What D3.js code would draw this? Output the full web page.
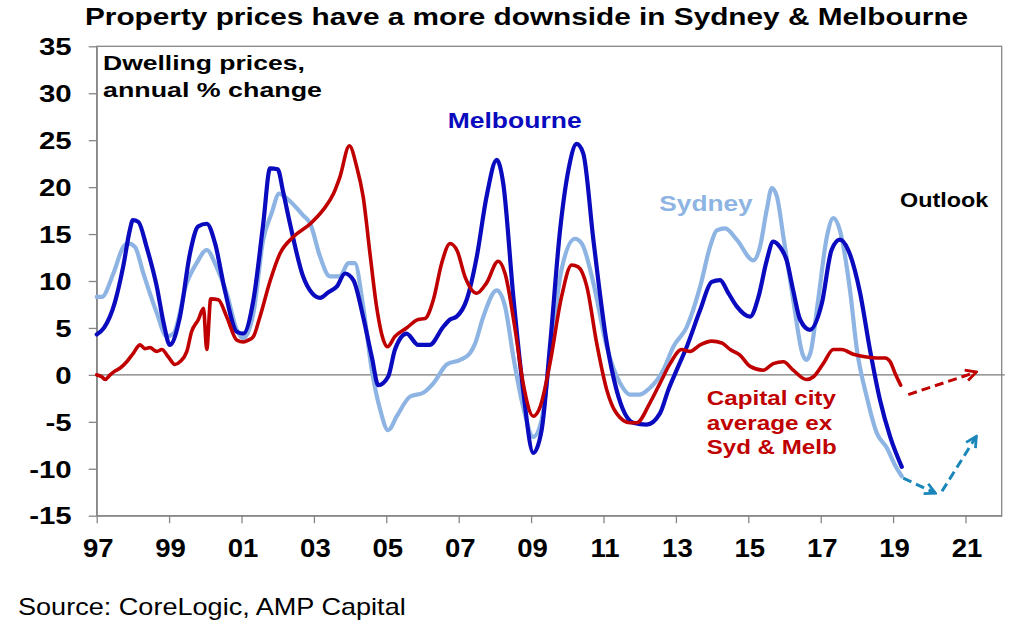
<!DOCTYPE html>
<html>
<head>
<meta charset="utf-8">
<script src="https://cdn.jsdelivr.net/npm/d3@7"></script>
<style>
  body { margin: 0; background: #fff; }
  text { font-family: "Liberation Sans", Arial, Helvetica, sans-serif; }
</style>
</head>
<body>
<svg id="chart" width="1024" height="629"></svg>
<script>
// annual % change as [year, value]
var sydney = [
  [1997.0, 8.3], [1997.14, 8.3], [1997.46, 10.8], [1997.73, 13.6], [1997.87, 14.0], [1998.06, 13.6],
  [1998.29, 10.8], [1998.66, 6.6], [1998.93, 4.1], [1999.12, 4.4], [1999.49, 9.8], [1999.76, 11.9],
  [2000.04, 13.3], [2000.31, 11.5], [2000.59, 8.7], [2000.87, 4.8], [2001.05, 3.9], [2001.33, 6.6],
  [2001.6, 14.4], [2001.83, 17.2], [2002.04, 19.3], [2002.25, 18.8], [2002.7, 17.0], [2002.9, 16.1],
  [2003.17, 12.6], [2003.44, 10.5], [2003.72, 10.5], [2003.95, 11.9], [2004.13, 11.9], [2004.36, 7.3],
  [2004.6, 0.5], [2004.83, -3.7], [2005.05, -5.9], [2005.29, -4.4], [2005.66, -2.3], [2006.02, -1.9],
  [2006.3, -0.9], [2006.67, 1.1], [2007.04, 1.6], [2007.31, 2.3], [2007.45, 3.3], [2007.68, 6.2],
  [2008.05, 9.0], [2008.28, 7.3], [2008.51, 1.9], [2008.78, -3.4], [2009.06, -6.6], [2009.29, -4.8],
  [2009.52, 1.9], [2009.84, 11.2], [2010.21, 14.5], [2010.4, 14.0], [2010.72, 9.8], [2011.09, 3.0],
  [2011.46, -0.9], [2011.73, -2.1], [2012.0, -2.1], [2012.28, -1.4], [2012.65, 0.5], [2012.93, 3.0],
  [2013.3, 5.1], [2013.67, 9.4], [2013.94, 13.6], [2014.13, 15.4], [2014.36, 15.6], [2014.68, 14.4],
  [2015.14, 12.2], [2015.32, 13.6], [2015.51, 17.6], [2015.65, 19.9], [2015.79, 19.0], [2015.97, 14.7],
  [2016.24, 8.0], [2016.5, 2.2], [2016.6, 1.6], [2016.72, 2.4], [2016.93, 8.0], [2017.17, 14.7], [2017.35, 16.7],
  [2017.53, 15.4], [2017.81, 9.0], [2018.0, 2.7], [2018.27, -2.3], [2018.55, -6.2], [2018.83, -7.8],
  [2019.05, -9.6], [2019.24, -10.8]
];

var melbourne = [
  [1997.0, 4.3], [1997.2, 5.0], [1997.5, 7.7], [1997.73, 11.5], [1997.92, 15.5], [1998.0, 16.5],
  [1998.15, 16.3], [1998.38, 13.6], [1998.66, 9.4], [1998.85, 5.5], [1999.02, 3.2], [1999.3, 6.2],
  [1999.58, 13.0], [1999.8, 15.8], [2000.04, 16.1], [2000.27, 14.0], [2000.54, 9.0], [2000.87, 4.6],
  [2001.05, 4.4], [2001.33, 8.0], [2001.6, 16.1], [2001.79, 22.0], [2002.0, 21.9], [2002.15, 19.5],
  [2002.34, 16.1], [2002.7, 10.5], [2002.95, 8.7], [2003.17, 8.2], [2003.4, 8.8], [2003.63, 9.4],
  [2003.86, 10.8], [2004.09, 10.1], [2004.36, 6.2], [2004.6, 1.9], [2004.78, -1.1], [2005.05, -0.2],
  [2005.24, 2.7], [2005.56, 4.4], [2005.88, 3.2], [2006.2, 3.2], [2006.57, 5.1], [2006.76, 5.9],
  [2006.94, 6.2], [2007.22, 8.0], [2007.5, 12.6], [2007.77, 19.0], [2008.05, 22.9], [2008.23, 20.4],
  [2008.51, 8.3], [2008.78, -1.6], [2009.06, -8.3], [2009.29, -5.9], [2009.52, 3.0], [2009.8, 15.4],
  [2010.03, 21.8], [2010.26, 24.6], [2010.44, 23.6], [2010.72, 14.4], [2011.09, 3.4], [2011.36, -1.6],
  [2011.82, -5.1], [2012.19, -5.3], [2012.56, -4.1], [2012.79, -1.6], [2013.02, 0.5], [2013.3, 3.0],
  [2013.67, 6.9], [2013.99, 9.9], [2014.22, 10.1], [2014.45, 8.7], [2014.68, 7.3], [2015.05, 6.2],
  [2015.28, 8.3], [2015.51, 12.2], [2015.69, 14.2], [2015.88, 13.6], [2016.06, 12.2], [2016.24, 9.0],
  [2016.43, 5.9], [2016.7, 4.8], [2017.03, 7.6], [2017.3, 13.3], [2017.53, 14.4], [2017.76, 13.3],
  [2018.09, 8.7], [2018.36, 2.7], [2018.64, -2.7], [2018.92, -6.6], [2019.24, -9.8]
];

var capitalExSydMelb = [
  [1997.0, 0.0], [1997.14, -0.2], [1997.23, -0.5], [1997.37, 0.0], [1997.5, 0.4], [1997.64, 0.7],
  [1997.83, 1.4], [1998.01, 2.3], [1998.2, 3.2], [1998.33, 2.8], [1998.47, 2.9], [1998.66, 2.5],
  [1998.8, 2.7], [1998.98, 1.9], [1999.16, 1.1], [1999.3, 1.4], [1999.49, 2.5], [1999.62, 4.6],
  [1999.81, 5.9], [1999.95, 7.1], [2000.04, 2.7], [2000.15, 8.1], [2000.36, 8.0], [2000.59, 6.2],
  [2000.87, 3.7], [2001.05, 3.5], [2001.19, 3.7], [2001.33, 4.1], [2001.51, 6.2], [2001.79, 10.0],
  [2002.06, 12.9], [2002.43, 14.7], [2002.9, 16.1], [2003.26, 17.6], [2003.54, 19.3], [2003.72, 21.1],
  [2003.98, 24.4], [2004.18, 22.2], [2004.36, 19.0], [2004.55, 12.9], [2004.73, 7.3], [2004.92, 3.7],
  [2005.03, 3.0], [2005.24, 4.1], [2005.56, 5.0], [2005.88, 5.9], [2006.07, 6.0], [2006.3, 8.0],
  [2006.53, 11.9], [2006.76, 14.0], [2006.96, 13.2], [2007.17, 10.5], [2007.5, 8.7], [2007.77, 9.8],
  [2008.09, 12.1], [2008.28, 10.8], [2008.56, 4.8], [2008.78, -0.9], [2009.06, -4.4], [2009.25, -3.4],
  [2009.52, 1.2], [2009.84, 8.3], [2010.12, 11.7], [2010.3, 11.5], [2010.54, 9.4], [2010.81, 3.4],
  [2011.09, -1.6], [2011.36, -4.1], [2011.73, -5.1], [2011.92, -5.1], [2012.28, -3.0], [2012.56, -0.9],
  [2012.84, 1.2], [2013.16, 2.7], [2013.39, 2.5], [2013.67, 3.2], [2013.99, 3.6], [2014.27, 3.4],
  [2014.5, 2.7], [2014.77, 2.1], [2015.05, 0.9], [2015.41, 0.5], [2015.69, 1.2], [2015.97, 1.4],
  [2016.24, 0.5], [2016.61, -0.5], [2016.8, -0.2], [2017.07, 1.2], [2017.35, 2.7], [2017.58, 2.7],
  [2017.9, 2.2], [2018.27, 1.9], [2018.55, 1.8], [2018.78, 1.8], [2018.92, 1.4], [2019.05, 0.2],
  [2019.21, -1.1]
];

// outlook arrows: [from, to]
var outlookCapital = [[2019.42, -2.1], [2021.3, 0.3]];
var outlookSydMelbDown = [[2019.28, -11.0], [2020.17, -12.6]];
var outlookSydMelbUp = [[2020.35, -12.4], [2021.3, -6.55]];

var xTicks = [1997, 1999, 2001, 2003, 2005, 2007, 2009, 2011, 2013, 2015, 2017, 2019, 2021];
var xTickLabels = ['97', '99', '01', '03', '05', '07', '09', '11', '13', '15', '17', '19', '21'];
var yTicks = [-15, -10, -5, 0, 5, 10, 15, 20, 25, 30, 35];

var svg = d3.select('#chart');
var axisColor = '#868686';

var xScale = d3.scaleLinear().domain([1997, 2022]).range([96.7, 1001.7]);
var yScale = d3.scaleLinear().domain([-15, 35]).range([515.7, 46.3]);

// frame round the plot
svg.append('rect')
  .attr('x', xScale(1997))
  .attr('y', yScale(35))
  .attr('width', xScale(2022) - xScale(1997))
  .attr('height', yScale(-15) - yScale(35))
  .attr('fill', 'none')
  .attr('stroke', axisColor)
  .attr('stroke-width', 1.3);

// y axis (plain hyphen for negatives, as in the picture)
var yAxis = svg.append('g')
  .attr('transform', 'translate(' + xScale(1997) + ',0)')
  .call(d3.axisLeft(yScale).tickValues(yTicks).tickSize(8).tickSizeOuter(0)
    .tickFormat(function(d) { return String(d); }));
yAxis.select('.domain').attr('stroke', axisColor).attr('stroke-width', 1.3);
yAxis.selectAll('line').attr('stroke', axisColor).attr('stroke-width', 1.3);
yAxis.selectAll('text')
  .attr('x', 0)
  .attr('dy', '0.36em')
  .attr('font-size', 23)
  .attr('font-weight', 'bold')
  .attr('fill', '#000')
  .attr('font-family', null)
  .attr('transform', 'translate(-25,0) scale(1.28,1)');

// x axis
var xAxis = svg.append('g')
  .attr('transform', 'translate(0,' + yScale(-15) + ')')
  .call(d3.axisBottom(xScale).tickValues(xTicks).tickSize(7.5).tickSizeOuter(0)
    .tickFormat(function(d, i) { return xTickLabels[i]; }));
xAxis.select('.domain').attr('stroke', axisColor).attr('stroke-width', 1.3);
xAxis.selectAll('line').attr('stroke', axisColor).attr('stroke-width', 1.3);
xAxis.selectAll('text')
  .attr('y', 0)
  .attr('dy', null)
  .attr('font-size', 25.5)
  .attr('font-weight', 'bold')
  .attr('fill', '#000')
  .attr('font-family', null)
  .attr('transform', 'translate(1,41) scale(1.08,1)');

// zero line
svg.append('line')
  .attr('x1', xScale(1997))
  .attr('x2', xScale(2022) + 3)
  .attr('y1', yScale(0))
  .attr('y2', yScale(0))
  .attr('stroke', '#7a7a7a')
  .attr('stroke-width', 1.3);

// series
var line = d3.line()
  .x(function(d) { return xScale(d[0]); })
  .y(function(d) { return yScale(d[1]); })
  .curve(d3.curveMonotoneX);

var series = [
  { data: sydney, color: '#8DB4E2', width: 4.2 },
  { data: melbourne, color: '#0A0ABE', width: 4.2 },
  { data: capitalExSydMelb, color: '#C00000', width: 3.6 }
];

series.forEach(function(s) {
  svg.append('path')
    .datum(s.data)
    .attr('d', line)
    .attr('fill', 'none')
    .attr('stroke', s.color)
    .attr('stroke-width', s.width)
    .attr('stroke-linejoin', 'round')
    .attr('stroke-linecap', 'round');
});

// arrow heads
var defs = svg.append('defs');
function marker(id, color) {
  defs.append('marker')
    .attr('id', id)
    .attr('viewBox', '0 0 14 14')
    .attr('refX', 12)
    .attr('refY', 7)
    .attr('markerWidth', 14)
    .attr('markerHeight', 14)
    .attr('markerUnits', 'userSpaceOnUse')
    .attr('orient', 'auto')
    .append('path')
    .attr('d', 'M1.5,1.5 L12,7 L1.5,12.5')
    .attr('fill', 'none')
    .attr('stroke', color)
    .attr('stroke-width', 2.8);
}
marker('arrowRed', '#C00000');
marker('arrowTeal', '#1A86BA');

var straight = d3.line()
  .x(function(d) { return xScale(d[0]); })
  .y(function(d) { return yScale(d[1]); });

[
  { data: outlookCapital, color: '#C00000', mk: 'arrowRed' },
  { data: outlookSydMelbDown, color: '#1A86BA', mk: 'arrowTeal' },
  { data: outlookSydMelbUp, color: '#1A86BA', mk: 'arrowTeal' }
].forEach(function(a) {
  svg.append('path')
    .datum(a.data)
    .attr('d', straight)
    .attr('fill', 'none')
    .attr('stroke', a.color)
    .attr('stroke-width', 3)
    .attr('stroke-dasharray', '9,5')
    .attr('marker-end', 'url(#' + a.mk + ')');
});

// text stretched to the width it has in the picture
function label(str, x, y, size, width, color, weight) {
  var t = svg.append('text')
    .text(str)
    .attr('font-size', size)
    .attr('font-weight', weight || 'bold')
    .attr('fill', color);
  var w = t.node().getComputedTextLength();
  t.attr('transform', 'translate(' + x + ',' + y + ') scale(' + (width / w) + ',1)');
}

label('Property prices have a more downside in Sydney & Melbourne', 85, 25, 24.7, 883, '#000');
label('Dwelling prices,', 103, 70, 21, 202, '#000');
label('annual % change', 103, 97, 21, 219, '#000');
label('Melbourne', 447.7, 128.3, 22, 134, '#0A0ABE');
label('Sydney', 659.3, 211, 22, 93.4, '#8DB4E2');
label('Outlook', 900, 207.3, 20, 88.3, '#000');
label('Capital city', 706.7, 405, 20, 129.3, '#C00000');
label('average ex', 706.7, 430, 20, 125.6, '#C00000');
label('Syd & Melb', 706.7, 454.3, 20, 130, '#C00000');
label('Source: CoreLogic, AMP Capital', 18, 615, 23, 388, '#000', 'normal');
</script>
</body>
</html>
